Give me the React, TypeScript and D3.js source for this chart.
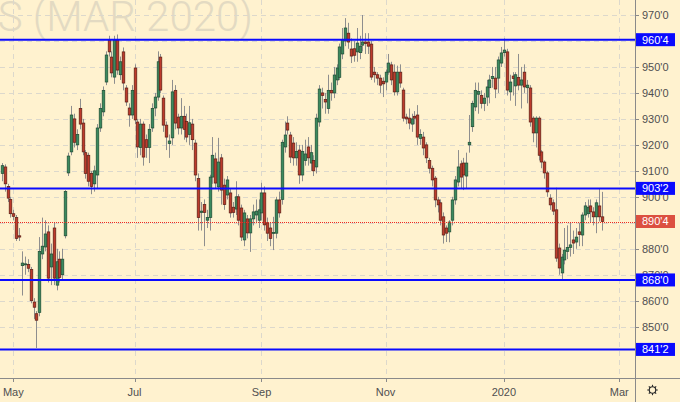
import React, { useMemo } from "react";
import * as d3 from "d3";

// ---------- DATA ----------
const opens = [
  909, 911.5, 904, 899, 893.5, 892, 885, 873.5, 874, 874, 872, 859.5, 855, 855.5, 878, 880.7, 886.5, 873, 888, 866,
  876, 870, 885, 909.2, 917.3, 930, 920, 934, 928.4, 917, 916, 909, 905, 908.4, 926.5, 932.7, 944.2, 960.4, 953.8, 946.1,
  960.4, 947, 955.8, 941.9, 934.2, 931.5, 949.6, 928.8, 919, 928, 922, 919, 926.5, 934.2, 938.4, 953.8, 938, 927.6, 920.5, 922.7,
  941, 930.7, 926.5, 931, 929, 924, 928, 920.7, 907, 894, 897, 891, 892, 907.6, 914.6, 903.8, 915, 904.5, 900.7, 901.5,
  896, 895.3, 900, 895.7, 883.4, 891.5, 886.1, 891.5, 893, 891, 893.8, 901.5, 890, 888, 886, 886, 898.8, 899, 919.2, 928.4,
  923.8, 920.7, 915, 918, 908.4, 914, 919.2, 913, 914, 911.5, 928.8, 940, 937.5, 934, 941, 940, 945, 946, 955, 960,
  963, 956.9, 957, 955.8, 955.5, 958.4, 959.6, 959.6, 958.8, 948, 947, 945.7, 944.5, 944.2, 948, 950.8, 948, 940.4, 948, 941.1,
  930.7, 930.3, 928, 931, 931.5, 922.5, 923, 920, 914, 911, 907.2, 898.8, 897.7, 892.3, 888, 886.5, 891, 898.8, 905.7, 912.7,
  913, 908, 920, 927, 934.6, 939.5, 939, 936, 938.4, 942, 945.5, 945.7, 945.7, 951.5, 955.5, 955.8, 940.4, 946.5, 942.7, 946,
  943, 948, 942, 941.9, 930.3, 924.6, 930.3, 917.3, 913.4, 909.2, 899.5, 897.7, 895, 880.3, 870.7, 875.7, 879, 880.5, 883.4, 882.6,
  886.5, 885.3, 893, 893.5, 896.5, 894.2, 892.3, 896.5, 892.3,
];
const highs = [
  913, 912.5, 905, 900, 895, 893, 888, 879, 877, 876, 873, 861, 856, 884.5, 892, 891, 889, 882, 890, 880,
  879, 880, 902.6, 917, 935, 932, 926, 937.7, 930, 918, 917, 910, 912, 928, 936, 942.5, 956, 962, 956, 962,
  962.5, 954, 957.5, 943, 936, 943, 951, 930, 930, 929, 924, 928, 936, 940, 956, 955, 939, 929, 924, 945,
  943, 932, 938, 935, 932, 935, 930, 922, 909, 898, 899, 895, 908.5, 923, 917, 922.7, 916.5, 907, 908, 903,
  898, 906, 901, 897, 895, 893, 893, 897, 899, 899, 905.4, 904, 892, 890, 892.3, 900, 902, 922, 929, 931,
  925, 923, 921, 920, 920, 922, 923, 920, 916, 932, 943, 942, 940, 947, 944, 950, 951, 959, 965, 968.8,
  967, 961, 960, 965, 962, 970, 963, 963, 960, 950, 948, 947, 946, 949, 955, 952, 951, 950.5, 951, 942,
  932, 934, 932, 933, 935.3, 926, 925, 921, 915, 912, 908, 900, 899, 894, 889, 891, 900, 908, 918, 914,
  915, 917, 931.5, 937, 944, 944, 941, 940, 945, 947, 950, 950, 954, 957.7, 961, 957, 947, 948, 948, 955,
  950, 951, 945, 943, 931, 931, 931, 918, 914, 910, 901, 899, 903.5, 882, 878, 888, 889, 890, 887, 888,
  890, 894, 898, 899, 899, 896, 899, 903, 901.9,
];
const lows = [
  906, 902, 898, 892, 891, 883, 883, 862, 870, 871, 859, 853, 841.8, 854, 876, 879, 867, 866, 866, 864,
  867, 868, 884, 908, 916, 919, 918, 926, 916, 907, 904, 901, 902, 903, 925, 931, 943, 954, 946, 943.5,
  947, 945, 941, 935, 927, 930, 928, 915, 916, 912, 915, 913, 925, 931, 937, 940, 925, 918, 915, 920,
  926, 924, 924, 922, 921, 920, 918, 906, 887, 887, 881, 888, 887, 905, 903, 902, 897, 895, 899, 892,
  892, 893, 889, 883, 881, 884, 878.8, 889, 890, 888, 891, 887, 883, 881, 879.5, 884, 892, 897, 917, 924,
  913, 912, 912, 905, 906, 912, 912, 910, 908, 909, 927, 934, 932, 932, 937, 938, 943, 945, 953, 958,
  957, 951.5, 952, 952, 953, 956, 955, 955, 945, 944, 943, 940, 938.4, 941, 947, 943, 939, 939, 942, 929,
  928, 926, 925, 928, 920, 920, 916, 913, 909, 904, 896, 894, 889, 882, 882.6, 882.5, 889, 897, 904, 903,
  902.6, 903, 917, 925, 933, 932, 934, 933, 935, 936, 942, 938, 940, 950, 954, 939, 937, 939, 935, 941,
  934, 940, 936, 927, 921, 919, 914, 911, 907, 900, 895, 893, 875, 870, 868.2, 874, 876, 877, 878, 880,
  881, 881, 891, 892, 890, 889, 886, 890.5, 887,
];
const closes = [
  912, 905, 899.5, 893.5, 892.5, 884, 884.5, 874.5, 874.2, 872.5, 860, 857.5, 852.5, 879, 881, 885.7, 868.7, 878, 868.7, 875,
  869, 876, 902, 915.7, 931.5, 921, 924, 928, 917.3, 909, 906, 904, 910, 926.5, 934, 941, 954.6, 955.8, 947.7, 960.4,
  948.8, 952, 943.8, 936.5, 931.5, 941, 929.6, 919.2, 928, 915.3, 919, 926, 934, 938.4, 952, 941.1, 927.6, 923, 921.5, 940.4,
  928.4, 926.5, 931, 926, 923, 928.5, 922, 908.4, 892, 894.5, 894, 892, 907.6, 916, 905.3, 913.4, 902.6, 897, 906.5, 893.8,
  894, 900, 891, 884.5, 893.8, 886.1, 891.5, 894.2, 894.5, 895, 901.5, 889.2, 886, 884, 886.3, 898.8, 893.8, 921, 923.8, 925.7,
  915.3, 915, 917.5, 908.4, 917.5, 916.5, 915, 917, 910, 930.3, 941.5, 939, 936.5, 941, 940, 946.9, 949.6, 957.7, 960.4, 965,
  959.6, 954.2, 954.5, 959.2, 958, 959.6, 959, 958, 946.1, 947, 945.7, 943, 943.5, 948, 951.5, 945, 940.4, 948, 943.8, 930.3,
  930, 928.4, 930, 930.3, 923, 924, 918.8, 915, 911, 906.5, 898.8, 896.9, 891, 885.3, 886, 890.3, 898.8, 906.5, 911.5, 907.6,
  908.4, 913, 921, 936, 941, 940.5, 936, 938, 942.3, 945, 946.3, 941.5, 952.7, 955.4, 956.5, 941.1, 944.2, 945.5, 947, 943,
  945, 942.3, 943, 928.8, 924.6, 930.3, 916, 913.4, 909.2, 901.9, 896.9, 894.5, 876.4, 872.6, 876.8, 879.5, 880.5, 881.5, 882.2, 884.5,
  885.5, 893, 896.5, 896, 894.2, 892.3, 897.7, 892.3, 890.5,
];

const firstDay = "2019-04-25";
const holidays = [
  "2019-05-27", "2019-07-04", "2019-09-02", "2019-11-28", "2019-12-25", "2020-01-01", "2020-01-20", "2020-02-17",
];
const monthKeys = ["2019-05", "2019-07", "2019-09", "2019-11", "2020-01", "2020-03"];
const monthLabels = ["May", "Jul", "Sep", "Nov", "2020", "Mar"];
const priceTicks = [850, 860, 870, 880, 890, 900, 910, 920, 930, 940, 950, 960, 970];
const levelLines = [960.5, 903.25, 868, 841.25];
const lastPrice = 890.5;
const watermark = "SOYBEANS (MAR 2020)";

// ---------- HELPERS ----------
function tradingDays(start: string, count: number): string[] {
  const out: string[] = [];
  const d = new Date(start + "T00:00:00Z");
  while (out.length < count) {
    const dow = d.getUTCDay();
    const iso = d.toISOString().slice(0, 10);
    if (dow !== 0 && dow !== 6 && !holidays.includes(iso)) out.push(iso);
    d.setUTCDate(d.getUTCDate() + 1);
  }
  return out;
}

function fmt(v: number): string {
  const whole = Math.floor(v + 1e-9);
  const eighths = Math.round((v - whole) * 8);
  return `${whole}'${eighths}`;
}

const W = 680;
const H = 402;
const PR = 635; // plot right
const PB = 378; // plot bottom
const FONT = "'Liberation Sans', Arial, sans-serif";

export default function App() {
  const days = useMemo(() => tradingDays(firstDay, 230), []);
  const x = d3.scaleLinear().domain([-0.61, 219.44]).range([0, PR]);
  const y = d3.scaleLinear().domain([970, 850]).range([15, 326.7]);

  const monthIdx = monthKeys.map((k) => days.findIndex((d) => d.startsWith(k)));
  const snap = (v: number) => Math.round(v) + 0.5;

  const bg = "#fff2cf";
  const grid = "#dcd8cc";
  const axisCol = "#8a8a8a";
  const textCol = "#4f4f4f";

  return (
    <svg width={W} height={H} style={{ position: "fixed", left: 0, top: 0 }} fontFamily={FONT}>
      <defs>
        <clipPath id="plot">
          <rect x={0} y={0} width={PR} height={PB} />
        </clipPath>
      </defs>
      <rect x={0} y={0} width={W} height={H} fill={bg} />

      {/* watermark */}
      <text
        x={253}
        y={31}
        textAnchor="end"
        fontSize={42}
        fontFamily="Roboto, 'Liberation Sans', sans-serif"
        fontWeight={300}
        fill="#e3dac2"
      >
        {watermark}
      </text>

      {/* grid */}
      <g stroke={grid} strokeWidth={1} strokeDasharray="5,4">
        {priceTicks.map((t) => (
          <line key={"h" + t} x1={0} x2={PR} y1={snap(y(t))} y2={snap(y(t))} />
        ))}
        {monthIdx.map((mi, k) => (
          <line key={"v" + k} x1={snap(x(mi))} x2={snap(x(mi))} y1={0} y2={PB} />
        ))}
      </g>

      {/* candles */}
      <g clipPath="url(#plot)">
        {opens.map((o, i) => {
          const c = closes[i];
          const up = c >= o;
          const cx = snap(x(i));
          const top = y(Math.max(o, c));
          const bot = y(Math.min(o, c));
          return (
            <g key={i}>
              <line x1={cx} x2={cx} y1={y(highs[i])} y2={y(lows[i])} stroke="#8e8e8e" strokeWidth={1} />
              <rect
                x={cx - 1.3}
                width={2.6}
                y={top}
                height={Math.max(1, bot - top)}
                fill={up ? "#3b8a5e" : "#bd3b2c"}
                stroke={up ? "#1d4a33" : "#5a1c13"}
                strokeWidth={0.7}
              />
            </g>
          );
        })}
      </g>

      {/* level lines */}
      {levelLines.map((lv) => (
        <line key={"l" + lv} x1={0} x2={PR + 2} y1={y(lv)} y2={y(lv)} stroke="#0a0aff" strokeWidth={2} />
      ))}
      <line
        x1={0}
        x2={PR}
        y1={snap(y(lastPrice))}
        y2={snap(y(lastPrice))}
        stroke="#ee2a22"
        strokeWidth={1}
        strokeDasharray="1,1"
      />

      {/* axes */}
      <line x1={PR + 0.5} x2={PR + 0.5} y1={0} y2={H} stroke={axisCol} strokeWidth={1} />
      <line x1={0} x2={W} y1={PB + 0.5} y2={PB + 0.5} stroke={axisCol} strokeWidth={1} />

      {/* price ticks */}
      {priceTicks.map((t) => (
        <g key={"pt" + t}>
          <line x1={PR} x2={PR + 4} y1={snap(y(t))} y2={snap(y(t))} stroke={axisCol} />
          <text x={642} y={y(t)} dy="0.35em" fontSize={11} fill={textCol}>
            {fmt(t)}
          </text>
        </g>
      ))}

      {/* month ticks */}
      {monthIdx.map((mi, k) => (
        <g key={"mt" + k}>
          <line x1={snap(x(mi))} x2={snap(x(mi))} y1={PB} y2={PB + 4} stroke={axisCol} />
          <text x={x(mi)} y={396} textAnchor="middle" fontSize={11} fill={textCol}>
            {monthLabels[k]}
          </text>
        </g>
      ))}

      {/* price labels */}
      {levelLines.map((lv) => (
        <g key={"lb" + lv}>
          <rect x={PR + 1} y={y(lv) - 6.5} width={39} height={13} fill="#0a0aff" />
          <text x={642} y={y(lv)} dy="0.36em" fontSize={11} fill="#ffffff">
            {fmt(lv)}
          </text>
        </g>
      ))}
      <g>
        <rect x={PR + 1} y={y(lastPrice) - 6.5} width={39} height={13} fill="#dc5040" />
        <text x={642} y={y(lastPrice)} dy="0.36em" fontSize={11} fill="#ffffff">
          {fmt(lastPrice)}
        </text>
      </g>

      {/* gear icon */}
      <g transform="translate(652.5,390)" stroke="#2a2a2a" strokeWidth={1.1} fill="none">
        <circle r={3.2} />
        {d3.range(8).map((k) => {
          const a = (k * Math.PI) / 4;
          return (
            <line key={k} x1={Math.cos(a) * 3.2} y1={Math.sin(a) * 3.2} x2={Math.cos(a) * 5.2} y2={Math.sin(a) * 5.2} />
          );
        })}
      </g>
    </svg>
  );
}
